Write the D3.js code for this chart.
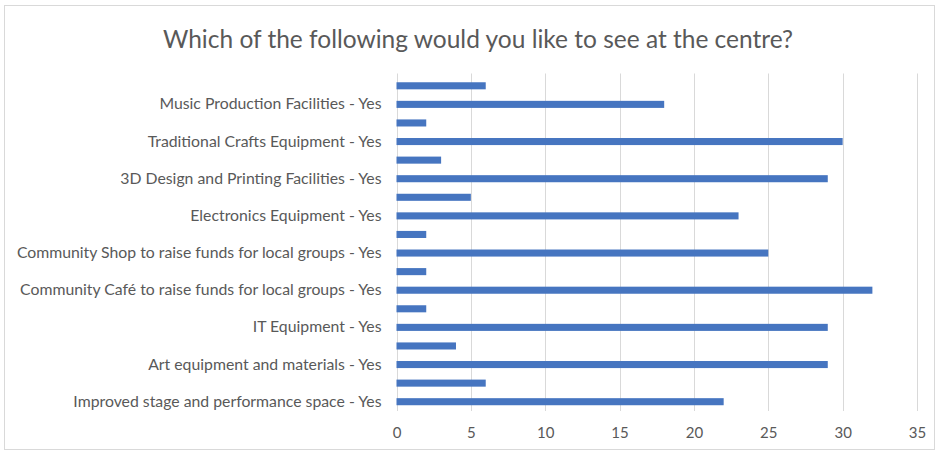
<!DOCTYPE html>
<html><head><meta charset="utf-8">
<script src="https://cdn.jsdelivr.net/npm/d3@7"></script>
<style>
body{margin:0;background:#fff;}
text{font-family:Lato, "Open Sans", sans-serif;}
</style></head>
<body>
<svg id="chart" width="939" height="453"></svg>
<script>
const title = "Which of the following would you like to see at the centre?";
const topics = [
  "Improved stage and performance space",
  "Art equipment and materials",
  "IT Equipment",
  "Community Café to raise funds for local groups",
  "Community Shop to raise funds for local groups",
  "Electronics Equipment",
  "3D Design and Printing Facilities",
  "Traditional Crafts Equipment",
  "Music Production Facilities"
];
const answers = ["Yes", "No"];
const yesValues = [22, 29, 29, 32, 25, 23, 29, 30, 18];
const noValues  = [6, 4, 2, 2, 2, 5, 3, 2, 6];
const xTicks = [0, 5, 10, 15, 20, 25, 30, 35];

const rows = [];
topics.forEach((t, i) => {
  rows.push({label: t + " - " + answers[0], value: yesValues[i], show: true});
  rows.push({label: t + " - " + answers[1], value: noValues[i], show: false});
});

const svg = d3.select("#chart");
const W = 939, H = 453;
const m = {left: 396.5, right: 22, top: 76.5, bottom: 42};

svg.append("rect").attr("x", 4.5).attr("y", 5.5).attr("width", W - 9).attr("height", H - 9)
  .attr("fill", "#fff").attr("stroke", "#d9d9d9").attr("stroke-width", 1);

svg.append("text").attr("x", 478).attr("y", 48).attr("text-anchor", "middle")
  .attr("fill", "#595959").attr("font-size", 24.5).text(title);

const x = d3.scaleLinear().domain([0, 35]).range([m.left, W - m.right]);
const y = d3.scaleBand().domain(rows.map(d => d.label).reverse())
  .range([m.top, H - m.bottom]).paddingInner(0.62).paddingOuter(0.31);

// gridlines
svg.append("g").selectAll("line").data(xTicks).join("line")
  .attr("x1", d => Math.round(x(d)) + 0.5).attr("x2", d => Math.round(x(d)) + 0.5)
  .attr("y1", m.top - 3).attr("y2", H - m.bottom)
  .attr("stroke", "#d9d9d9").attr("stroke-width", 1);

// bars
svg.append("g").selectAll("rect").data(rows).join("rect")
  .attr("x", x(0)).attr("y", d => y(d.label))
  .attr("width", d => x(d.value) - x(0)).attr("height", y.bandwidth())
  .attr("fill", "#4675c0");

// x axis
const xAxis = d3.axisBottom(x).tickValues(xTicks).tickSize(0).tickPadding(14);
const gx = svg.append("g").attr("transform", `translate(0,${H - m.bottom + 2})`).call(xAxis);
gx.select(".domain").remove();
gx.selectAll("text").attr("fill", "#595959").attr("font-size", 15).style("font-family", "Lato, sans-serif");

// y axis labels (every other shown)
const yAxis = d3.axisLeft(y).tickSize(0).tickPadding(15)
  .tickFormat(d => rows.find(r => r.label === d).show ? d : "");
const gy = svg.append("g").attr("transform", `translate(${m.left},0)`).call(yAxis);
gy.select(".domain").remove();
gy.selectAll("text").attr("fill", "#595959").attr("font-size", 15.8).style("font-family", "Lato, sans-serif");
</script>
</body></html>
